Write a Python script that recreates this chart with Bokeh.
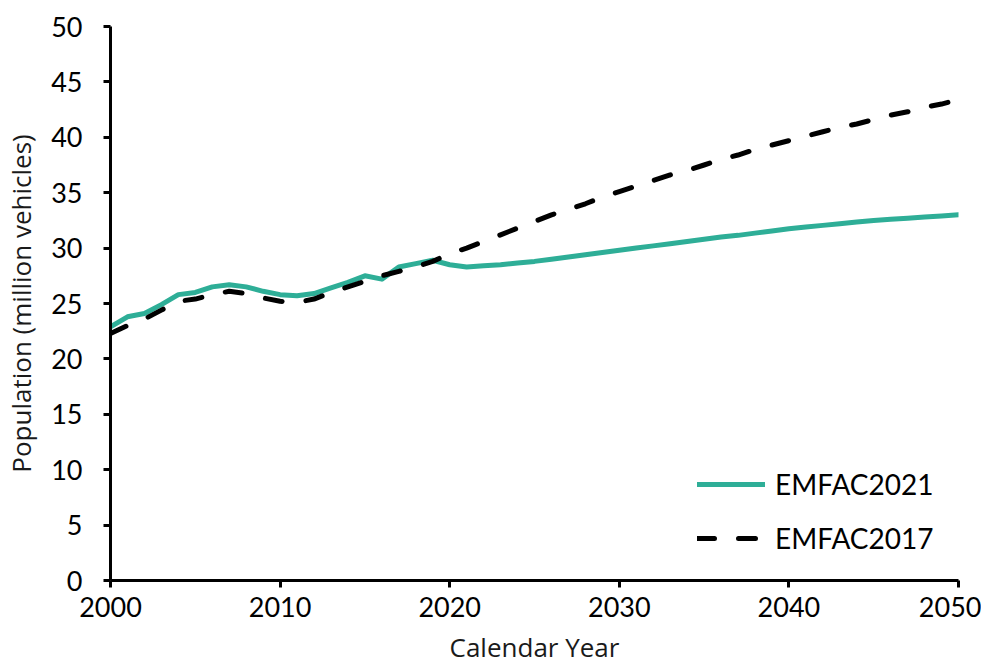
from bokeh.plotting import figure
from bokeh.models import Legend, LegendItem, FixedTicker, Range1d
from bokeh.embed import file_html
from bokeh.resources import INLINE

years = list(range(2000, 2051))
emfac2021 = [22.9, 23.8, 24.1, 24.9, 25.8, 26.0, 26.5, 26.7, 26.5, 26.1,
             25.8, 25.7, 25.9, 26.4, 26.9, 27.5, 27.2, 28.3, 28.6, 28.9,
             28.5, 28.3, 28.4, 28.5, 28.65, 28.8, 29.0, 29.2, 29.4, 29.6,
             29.8, 30.0, 30.2, 30.4, 30.6, 30.8, 31.0, 31.15, 31.35, 31.55,
             31.75, 31.9, 32.05, 32.2, 32.35, 32.5, 32.6, 32.7, 32.8, 32.9,
             33.0]
emfac2017 = [22.3, 23.0, 23.6, 24.4, 25.2, 25.4, 25.8, 26.1, 25.9, 25.5,
             25.2, 25.1, 25.4, 26.0, 26.5, 27.0, 27.5, 27.9, 28.3, 28.8,
             29.5, 30.0, 30.6, 31.2, 31.8, 32.4, 33.0, 33.5, 34.0, 34.6,
             35.1, 35.6, 36.1, 36.6, 37.0, 37.5, 38.0, 38.4, 38.9, 39.3,
             39.7, 40.1, 40.5, 40.9, 41.2, 41.6, 42.0, 42.3, 42.7, 43.0,
             43.4]
x_ticks = [2000, 2010, 2020, 2030, 2040, 2050]
y_ticks = [0, 5, 10, 15, 20, 25, 30, 35, 40, 45, 50]

FONT = "Lato"
LABEL_FONT = "Open Sans"
GREEN = "#2EAE97"

p = figure(frame_width=848, frame_height=554,
           min_border_left=110, min_border_right=23,
           min_border_top=26, min_border_bottom=79,
           x_range=Range1d(2000, 2050), y_range=Range1d(0, 50),
           output_backend="svg", toolbar_location=None)

p.xgrid.visible = False
p.ygrid.visible = False
p.outline_line_color = None

r1 = p.line(years, emfac2021, line_color=GREEN, line_width=5,
            line_cap="round", line_join="round")
r2 = p.line(years, emfac2017, line_color="black", line_width=5,
            line_dash="17 24", line_cap="round", line_join="round")

for ax in (p.xaxis[0], p.yaxis[0]):
    ax.axis_line_width = 3
    ax.axis_line_color = "black"
    ax.major_tick_line_width = 3
    ax.major_tick_line_color = "black"
    ax.major_tick_out = 7
    ax.major_tick_in = 0
    ax.minor_tick_line_color = None
    ax.major_label_text_font = FONT
    ax.major_label_text_font_size = "27px"
    ax.major_label_text_color = "black"
    ax.axis_label_text_font = LABEL_FONT
    ax.axis_label_text_font_size = "26px"
    ax.axis_label_text_font_style = "normal"
    ax.axis_label_text_color = "#1a1a1a"

p.xaxis[0].ticker = FixedTicker(ticks=x_ticks)
p.yaxis[0].ticker = FixedTicker(ticks=y_ticks)
p.xaxis[0].axis_label = "Calendar Year"
p.yaxis[0].axis_label = "Population (million vehicles)"
p.xaxis[0].major_label_standoff = 9
p.yaxis[0].major_label_standoff = 21
p.xaxis[0].axis_label_standoff = 9
p.yaxis[0].axis_label_standoff = 9

legend = Legend(items=[LegendItem(label="EMFAC2021", renderers=[r1]),
                       LegendItem(label="EMFAC2017", renderers=[r2])],
                location=(587, 25), orientation="vertical",
                glyph_width=68, glyph_height=30, label_height=30,
                spacing=20, padding=0, margin=0, label_standoff=10,
                label_text_font=FONT, label_text_font_size="28px",
                label_text_color="black",
                background_fill_alpha=0, border_line_color=None)
p.add_layout(legend, "center")

open("out.html", "w").write(file_html(p, INLINE))
